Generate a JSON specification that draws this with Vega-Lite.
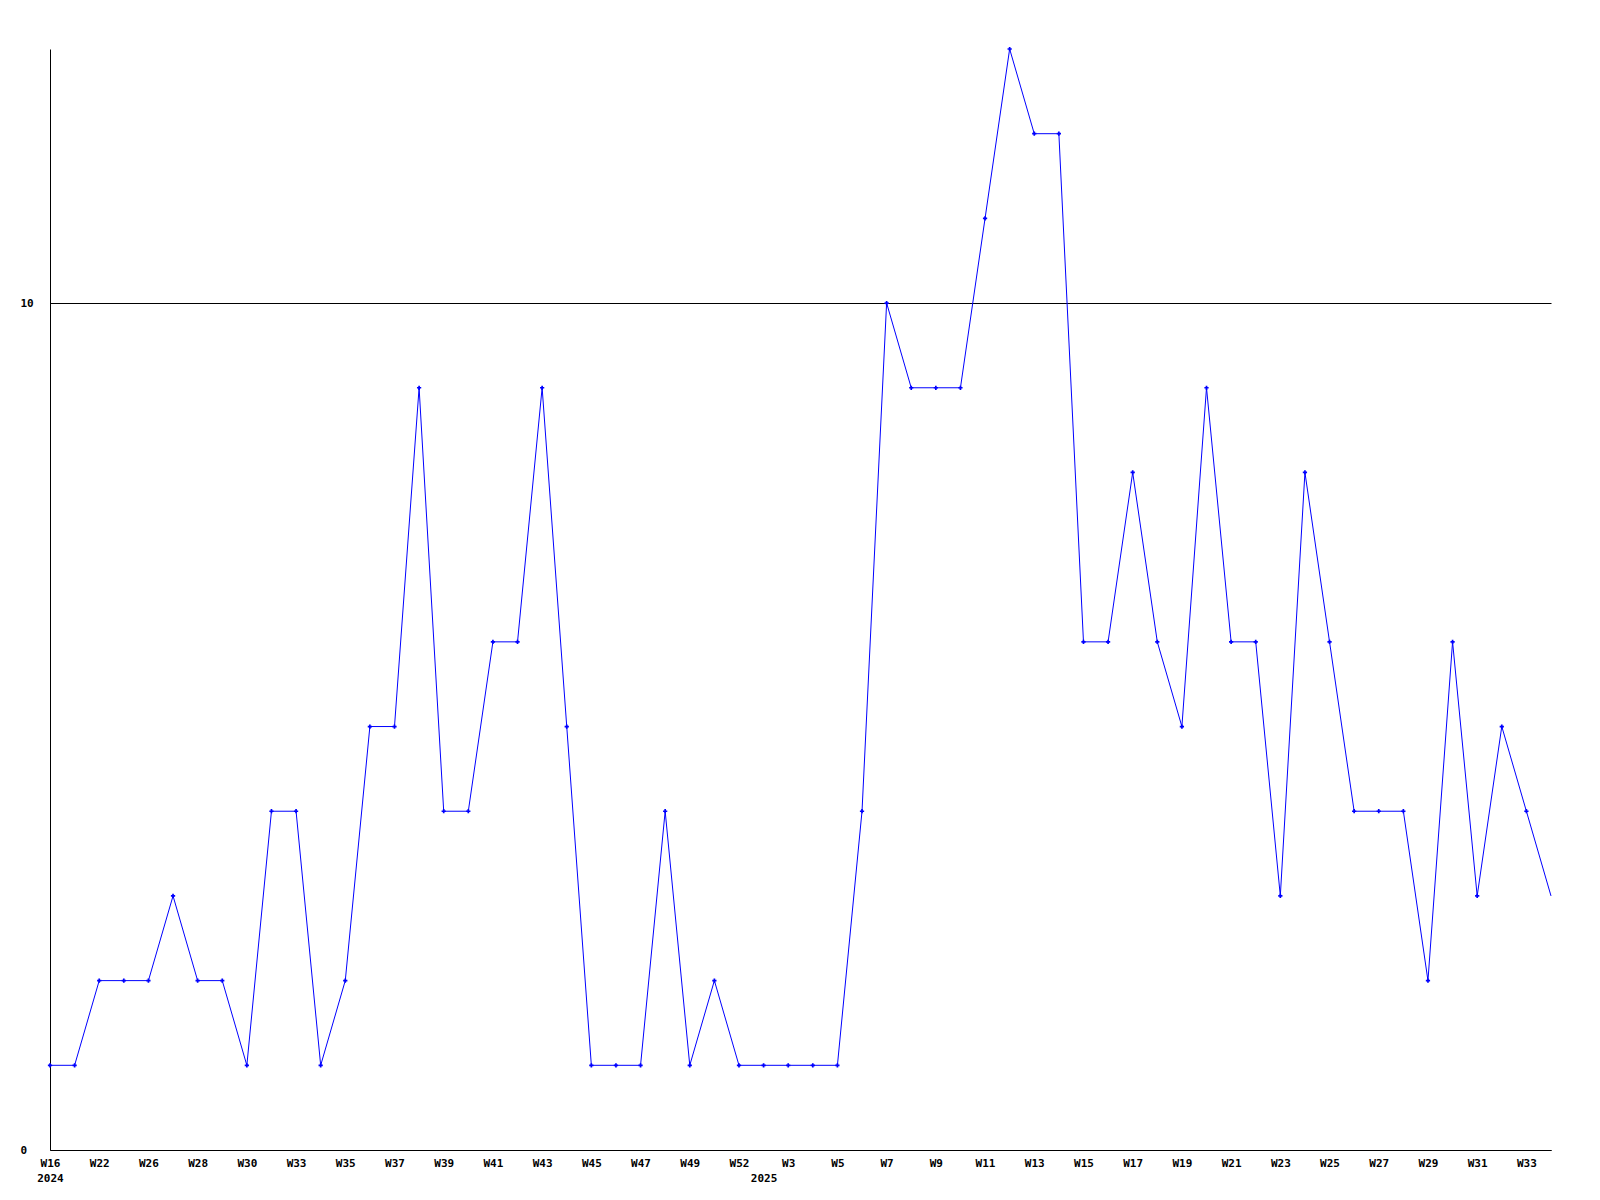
{
  "$schema": "https://vega.github.io/schema/vega-lite/v6.json",
  "autosize": "none",
  "width": 1501,
  "height": 1101,
  "padding": {"left": 50, "top": 49, "right": 49, "bottom": 50},
  "background": "white",
  "config": {
    "view": {"stroke": null},
    "axis": {
      "labelFont": "DejaVu Sans Mono",
      "labelFontWeight": "bold",
      "labelFontSize": 11,
      "labelColor": "black",
      "domainColor": "black",
      "domainWidth": 1,
      "ticks": false,
      "title": null
    }
  },
  "data": {
    "values": [
      {"week": "2024-W16", "count": 1},
      {"week": "2024-W21", "count": 1},
      {"week": "2024-W22", "count": 2},
      {"week": "2024-W24", "count": 2},
      {"week": "2024-W26", "count": 2},
      {"week": "2024-W27", "count": 3},
      {"week": "2024-W28", "count": 2},
      {"week": "2024-W29", "count": 2},
      {"week": "2024-W30", "count": 1},
      {"week": "2024-W32", "count": 4},
      {"week": "2024-W33", "count": 4},
      {"week": "2024-W34", "count": 1},
      {"week": "2024-W35", "count": 2},
      {"week": "2024-W36", "count": 5},
      {"week": "2024-W37", "count": 5},
      {"week": "2024-W38", "count": 9},
      {"week": "2024-W39", "count": 4},
      {"week": "2024-W40", "count": 4},
      {"week": "2024-W41", "count": 6},
      {"week": "2024-W42", "count": 6},
      {"week": "2024-W43", "count": 9},
      {"week": "2024-W44", "count": 5},
      {"week": "2024-W45", "count": 1},
      {"week": "2024-W46", "count": 1},
      {"week": "2024-W47", "count": 1},
      {"week": "2024-W48", "count": 4},
      {"week": "2024-W49", "count": 1},
      {"week": "2024-W50", "count": 2},
      {"week": "2024-W52", "count": 1},
      {"week": "2025-W1", "count": 1},
      {"week": "2025-W3", "count": 1},
      {"week": "2025-W4", "count": 1},
      {"week": "2025-W5", "count": 1},
      {"week": "2025-W6", "count": 4},
      {"week": "2025-W7", "count": 10},
      {"week": "2025-W8", "count": 9},
      {"week": "2025-W9", "count": 9},
      {"week": "2025-W10", "count": 9},
      {"week": "2025-W11", "count": 11},
      {"week": "2025-W12", "count": 13},
      {"week": "2025-W13", "count": 12},
      {"week": "2025-W14", "count": 12},
      {"week": "2025-W15", "count": 6},
      {"week": "2025-W16", "count": 6},
      {"week": "2025-W17", "count": 8},
      {"week": "2025-W18", "count": 6},
      {"week": "2025-W19", "count": 5},
      {"week": "2025-W20", "count": 9},
      {"week": "2025-W21", "count": 6},
      {"week": "2025-W22", "count": 6},
      {"week": "2025-W23", "count": 3},
      {"week": "2025-W24", "count": 8},
      {"week": "2025-W25", "count": 6},
      {"week": "2025-W26", "count": 4},
      {"week": "2025-W27", "count": 4},
      {"week": "2025-W28", "count": 4},
      {"week": "2025-W29", "count": 2},
      {"week": "2025-W30", "count": 6},
      {"week": "2025-W31", "count": 3},
      {"week": "2025-W32", "count": 5},
      {"week": "2025-W33", "count": 4},
      {"week": "2025-W34", "count": 3}
    ]
  },
  "encoding": {
    "x": {
      "field": "week",
      "type": "ordinal",
      "sort": null,
      "scale": {"type": "point", "padding": 0},
      "axis": {
        "values": ["2024-W16","2024-W22","2024-W26","2024-W28","2024-W30","2024-W33","2024-W35","2024-W37","2024-W39","2024-W41","2024-W43","2024-W45","2024-W47","2024-W49","2024-W52","2025-W1","2025-W3","2025-W5","2025-W7","2025-W9","2025-W11","2025-W13","2025-W15","2025-W17","2025-W19","2025-W21","2025-W23","2025-W25","2025-W27","2025-W29","2025-W31","2025-W33"],
        "labelExpr": "datum.value == '2024-W16' ? ['W16', '2024'] : datum.value == '2025-W1' ? [' ', '2025'] : split(datum.value, '-')[1]",
        "labelAngle": 0,
        "labelAlign": "center",
        "labelBaseline": "top",
        "labelPadding": 7,
        "labelLineHeight": 15,
        "labelOverlap": false,
        "grid": false
      }
    },
    "y": {
      "field": "count",
      "type": "quantitative",
      "scale": {"domain": [0, 13], "nice": false},
      "axis": {
        "values": [0, 10],
        "grid": true,
        "gridColor": "black",
        "gridOpacity": 1,
        "gridWidth": 1,
        "labelAlign": "left",
        "labelPadding": 30
      }
    }
  },
  "layer": [
    {
      "mark": {"type": "line", "color": "#0000ff", "strokeWidth": 1}
    },
    {
      "transform": [{"filter": "datum.week != '2025-W34'"}],
      "mark": {"type": "point", "shape": "cross", "filled": true, "color": "#0000ff", "size": 18, "opacity": 1}
    }
  ]
}
